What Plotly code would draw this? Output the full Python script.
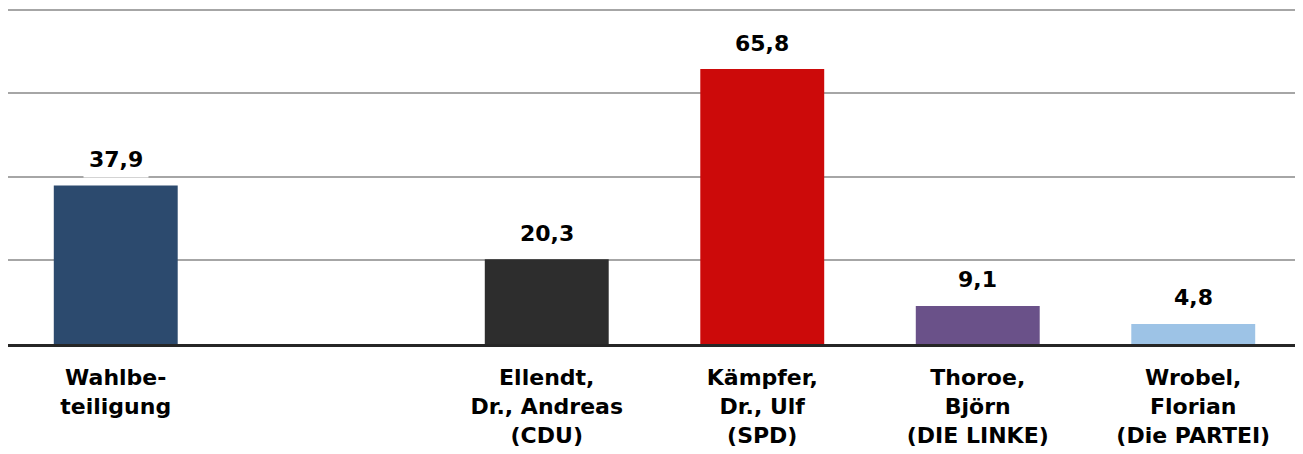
import plotly.graph_objects as go

categories = ["Wahlbe-<br>teiligung", " ", "Ellendt,<br>Dr., Andreas<br>(CDU)",
              "Kämpfer,<br>Dr., Ulf<br>(SPD)", "Thoroe,<br>Björn<br>(DIE LINKE)",
              "Wrobel,<br>Florian<br>(Die PARTEI)"]
values = [37.9, None, 20.3, 65.8, 9.1, 4.8]
labels = ["37,9", "", "20,3", "65,8", "9,1", "4,8"]
colors = ["#2C4A6E", "#FFFFFF", "#2D2D2D", "#CC0A0A", "#6A5189", "#9DC3E6"]
grid_ticks = [0, 20, 40, 60, 80]

FONT = "DejaVu Sans, Liberation Sans, Arial, sans-serif"

fig = go.Figure()
fig.add_trace(go.Bar(x=categories, y=values, marker=dict(color=colors, line=dict(width=0)),
                     hoverinfo="skip"))

for c, v, t in zip(categories, values, labels):
    if v is None:
        continue
    fig.add_annotation(x=c, y=v, text="<b>%s</b>" % t, showarrow=False,
                       yanchor="middle", yshift=26, bgcolor="white", borderpad=5,
                       font=dict(family=FONT, size=22, color="#000000"))

fig.update_layout(
    width=1295, height=446,
    margin=dict(l=0, r=2, t=0, b=110),
    paper_bgcolor="white", plot_bgcolor="white",
    bargap=0.425, showlegend=False,
    font=dict(family=FONT, size=22, color="#000000"),
)
fig.update_xaxes(type="category", categoryorder="array", categoryarray=categories,
                 showline=True, linecolor="#262626", linewidth=3, ticks="",
                 ticklabelstandoff=12,
                 tickfont=dict(family=FONT, size=22, color="#000000", weight="bold"),
                 showgrid=False)
fig.update_yaxes(range=[0, 80.4], tickvals=grid_ticks, showticklabels=False,
                 showgrid=True, gridcolor="#A6A6A6", gridwidth=2, zeroline=False,
                 showline=False)

fig.write_html("out.html")
